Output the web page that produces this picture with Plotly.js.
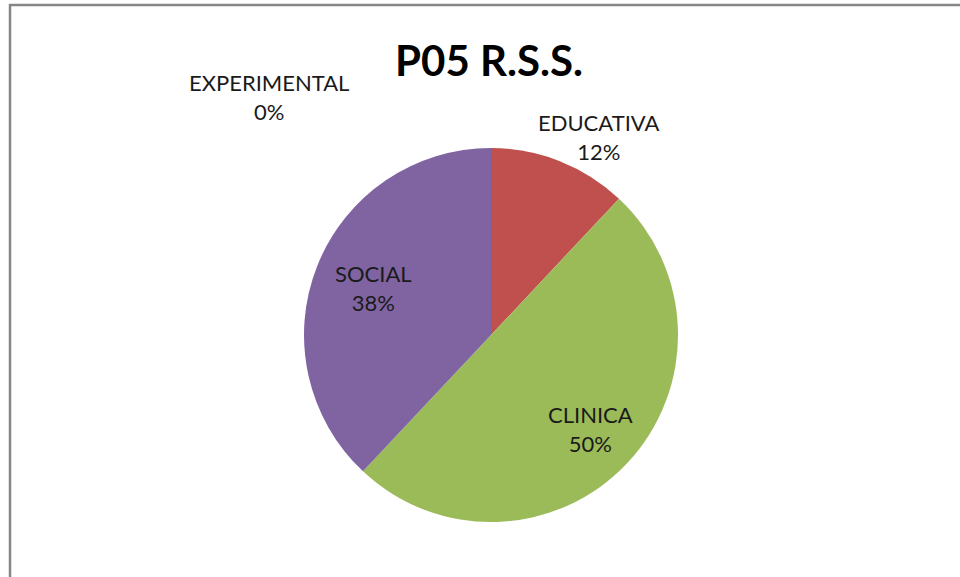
<!DOCTYPE html>
<html>
<head>
<meta charset="utf-8">
<script src="https://cdn.plot.ly/plotly-3.0.1.min.js"></script>
<style>html,body{margin:0;padding:0;background:#fff;}#chart{width:960px;height:577px;}</style>
</head>
<body>
<div id="chart"></div>
<script>
const categories = ["EXPERIMENTAL", "EDUCATIVA", "CLINICA", "SOCIAL"];
const values = [0, 12, 50, 38];
const colors = ["#4F81BD", "#C0504D", "#9BBB59", "#8064A2"];
const chartTitle = "P05 R.S.S.";

const W = 960, H = 577;
const px = x => x / W;
const py = y => 1 - y / H;

const total = values.reduce((a, b) => a + b, 0);
const labelText = categories.map((c, i) => c + "<br>" + Math.round(values[i] / total * 100) + "%");
// label anchor positions (layout), same order as categories
const labelPos = [[269, 97], [599, 137], [590, 429], [373, 288]];

const font = "Lato, 'Open Sans', sans-serif";

const trace = {
  type: "pie",
  labels: categories,
  values: values,
  marker: {colors: colors, line: {width: 0}},
  sort: false,
  direction: "clockwise",
  rotation: 0,
  textinfo: "none",
  hoverinfo: "label+percent",
  showlegend: false,
  domain: {x: [px(304), px(678)], y: [py(522), py(148)]}
};

const annotations = labelText.map((t, i) => ({
  text: t,
  x: px(labelPos[i][0]), y: py(labelPos[i][1]),
  xref: "paper", yref: "paper",
  xanchor: "center", yanchor: "middle",
  showarrow: false,
  font: {family: font, size: 22, color: "#1a1a1a"}
}));

const layout = {
  width: W, height: H,
  margin: {l: 0, r: 0, t: 0, b: 0},
  paper_bgcolor: "#ffffff",
  title: {
    text: "<b>" + chartTitle + "</b>",
    x: px(489), xanchor: "center",
    y: py(61), yanchor: "middle",
    font: {family: font, size: 42, color: "#000000"}
  },
  annotations: annotations,
  shapes: [
    {type: "line", xref: "paper", yref: "paper", x0: px(9), x1: 1.01, y0: py(5), y1: py(5), line: {color: "#868686", width: 2.5}},
    {type: "line", xref: "paper", yref: "paper", x0: px(10), x1: px(10), y0: py(4), y1: -0.01, line: {color: "#868686", width: 2.5}}
  ]
};

Plotly.newPlot("chart", [trace], layout, {displayModeBar: false, staticPlot: true});
</script>
</body>
</html>
